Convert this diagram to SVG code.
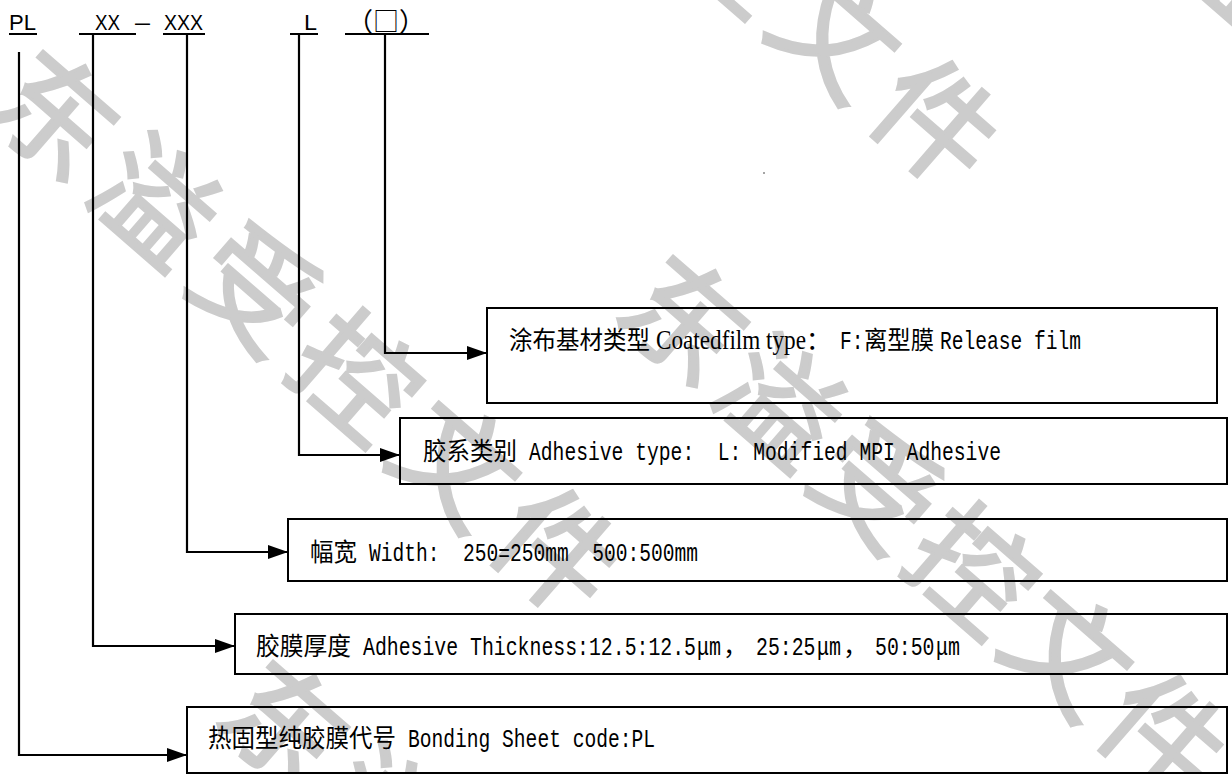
<svg xmlns="http://www.w3.org/2000/svg" width="1232" height="774" viewBox="0 0 1232 774">
<defs>
<marker id="ah" markerUnits="userSpaceOnUse" markerWidth="22" markerHeight="16" refX="20" refY="8" orient="auto"><path d="M0,1 L20,8 L0,15 Z" fill="#000"/></marker>
</defs>
<style>
.wm{font-family:"Noto Sans CJK SC",sans-serif;font-size:120px;letter-spacing:13px;fill:#cccccc;stroke:#cccccc;stroke-width:3}
.hd{font-family:"Liberation Sans",Arial,sans-serif;font-size:22px;fill:#000}
.hz{font-family:"Noto Sans CJK SC",sans-serif;font-size:26px;fill:#000}
.box{fill:none;stroke:#000;stroke-width:2}
.ln{fill:none;stroke:#000;stroke-width:2}
.cn{fill:none;stroke:#000;stroke-width:2.2;marker-end:url(#ah)}
.t{font-size:25px;fill:#000;white-space:pre}
.zh{font-family:"Noto Sans CJK SC",sans-serif}
.mo{font-family:"Liberation Mono","Noto Sans CJK SC",monospace;font-size:26px}
.se{font-family:"Liberation Serif","Noto Sans CJK SC",serif;font-size:27px}
</style>
<rect width="1232" height="774" fill="#fff"/>
<g id="watermark">
<text class="wm" transform="translate(-19.5,109) rotate(41)">东溢受控文件</text>
<text class="wm" style="letter-spacing:7px" transform="translate(610.5,314) rotate(41)">东溢受控文件</text>
<text class="wm" transform="translate(360,-320) rotate(41)">东溢受控文件</text>
<text class="wm" transform="translate(1050,-140) rotate(41)">东溢受控文件</text>
<text class="wm" transform="translate(210.5,719) rotate(41)">东溢受控文件</text>
</g>
<g id="header">
<text class="hd" x="9" y="30" textLength="27" lengthAdjust="spacingAndGlyphs">PL</text>
<text class="hd" x="95" y="30" textLength="25" lengthAdjust="spacingAndGlyphs">XX</text>
<text class="hd" x="135" y="30" textLength="15" lengthAdjust="spacingAndGlyphs">–</text>
<text class="hd" x="164" y="30" textLength="39" lengthAdjust="spacingAndGlyphs">XXX</text>
<text class="hd" x="304" y="30" textLength="13" lengthAdjust="spacingAndGlyphs">L</text>
<text class="hz" x="347" y="31">（□）</text>
<path class="ln" d="M9 34H37M79 34H136M163 34H205M290 34H318M345 34H429"/>
</g>
<g id="connectors">
<path class="cn" d="M19 52V755H187"/>
<path class="cn" d="M93 34V646H235"/>
<path class="cn" d="M187 34V552H288"/>
<path class="cn" d="M299 34V455H400"/>
<path class="cn" d="M385 34V353H487"/>
</g>
<g id="node-coated">
<rect class="box" x="487" y="308" width="730" height="95"/>
<text class="t" y="349"><tspan class="zh" x="509" textLength="141" lengthAdjust="spacingAndGlyphs">涂布基材类型</tspan> <tspan class="se" x="656" textLength="150" lengthAdjust="spacingAndGlyphs">Coatedfilm type</tspan><tspan class="zh" x="806">：</tspan><tspan class="mo" x="840" textLength="23.5" lengthAdjust="spacingAndGlyphs">F:</tspan><tspan class="zh" x="864" textLength="70" lengthAdjust="spacingAndGlyphs">离型膜</tspan> <tspan class="mo" x="940" textLength="141" lengthAdjust="spacingAndGlyphs">Release film</tspan></text>
</g>
<g id="node-adhesive-type">
<rect class="box" x="400" y="418" width="827" height="66"/>
<text class="t" y="460"><tspan class="zh" x="423" textLength="94" lengthAdjust="spacingAndGlyphs">胶系类别</tspan> <tspan class="mo" x="529" textLength="472" lengthAdjust="spacingAndGlyphs">Adhesive type:  L: Modified MPI Adhesive</tspan></text>
</g>
<g id="node-width">
<rect class="box" x="288" y="519" width="939" height="62"/>
<text class="t" y="561"><tspan class="zh" x="310" textLength="47" lengthAdjust="spacingAndGlyphs">幅宽</tspan> <tspan class="mo" x="369" textLength="329" lengthAdjust="spacingAndGlyphs">Width:  250=250mm  500:500mm</tspan></text>
</g>
<g id="node-thickness">
<rect class="box" x="235" y="614" width="992" height="60"/>
<text class="t" y="655"><tspan class="zh" x="256" textLength="95" lengthAdjust="spacingAndGlyphs">胶膜厚度</tspan> <tspan class="mo" x="363" textLength="333" lengthAdjust="spacingAndGlyphs">Adhesive Thickness:12.5:12.5</tspan><tspan class="mo" x="697" textLength="24" lengthAdjust="spacingAndGlyphs">μm</tspan><tspan class="zh" x="723">，</tspan><tspan class="mo" x="756" textLength="59.5" lengthAdjust="spacingAndGlyphs">25:25</tspan><tspan class="mo" x="817" textLength="24" lengthAdjust="spacingAndGlyphs">μm</tspan><tspan class="zh" x="843">，</tspan><tspan class="mo" x="875" textLength="59.5" lengthAdjust="spacingAndGlyphs">50:50</tspan><tspan class="mo" x="936" textLength="24" lengthAdjust="spacingAndGlyphs">μm</tspan></text>
</g>
<g id="node-code">
<rect class="box" x="187" y="707" width="1040" height="66"/>
<text class="t" y="747"><tspan class="zh" x="208" textLength="188" lengthAdjust="spacingAndGlyphs">热固型纯胶膜代号</tspan> <tspan class="mo" x="408" textLength="247" lengthAdjust="spacingAndGlyphs">Bonding Sheet code:PL</tspan></text>
</g>
<circle cx="764" cy="173" r="0.8" fill="#333"/>
</svg>
